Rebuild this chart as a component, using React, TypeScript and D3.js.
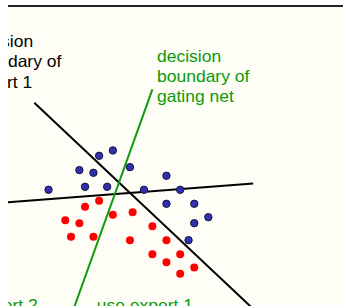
import React from "react";
import * as d3 from "d3";

// data units: x 0..10, y 0..10
const blueX = [3.13, 2.72, 2.13, 2.55, 3.64, 4.73, 1.21, 2.3, 2.96, 4.06, 5.14, 4.73, 5.56, 5.98, 5.56, 5.39];
const blueY = [5.22, 5.04, 4.56, 4.47, 4.66, 4.37, 3.9, 4.0, 4.0, 3.9, 3.9, 3.43, 3.43, 2.98, 2.78, 2.21];
const redX = [2.72, 2.3, 1.71, 2.13, 3.13, 3.72, 4.31, 1.88, 2.55, 3.64, 4.73, 4.31, 5.14, 4.73, 5.56, 5.14];
const redY = [3.53, 3.33, 2.88, 2.78, 3.06, 3.15, 2.68, 2.32, 2.32, 2.21, 2.21, 1.74, 1.74, 1.47, 1.29, 1.08];

const expert1Line = [[0.785, 6.82], [7.67, -0.47]];
const expert2Line = [[0, 3.48], [7.32, 4.11]];
const gatingLine = [[4.31, 7.27], [1.84, -0.47]];

const expert1Label = ["decision", "boundary of", "expert 1"];
const gatingLabel = ["decision", "boundary of", "gating net"];
const bottomLabels = ["use expert 2", "use expert 1"];

export default function App() {
  const W = 343, H = 306;
  const x = d3.scaleLinear().domain([0, 10]).range([8, 343]);
  const y = d3.scaleLinear().domain([0, 10]).range([306, 8]);
  const line = d3.line<number[]>().x(d => x(d[0])).y(d => y(d[1]));
  const font = "'Liberation Sans', Arial, sans-serif";
  const fs = 16.5;
  const lh = 20.5;
  const textLines = (lines: string[], tx: number, ty: number, color: string) => (
    <text
      transform={`translate(${tx},${ty}) scale(1.06,1)`}
      fontFamily={font}
      fontSize={fs}
      fill={color}
    >
      {lines.map((l, i) => (
        <tspan key={i} x={0} y={i * lh}>{l}</tspan>
      ))}
    </text>
  );
  return (
    <svg width={W} height={H} style={{ position: "absolute", left: 0, top: 0 }}>
      <defs>
        <clipPath id="area">
          <rect x={8} y={7} width={W - 8} height={H - 7} />
        </clipPath>
      </defs>
      <rect x={0} y={0} width={W} height={H} fill="#ffffff" />
      <rect x={8} y={7} width={W - 8} height={H - 7} fill="#fefef6" />
      <line x1={8} x2={W} y1={6} y2={6} stroke="#222" strokeWidth={2} />
      <g clipPath="url(#area)">
        <path d={line(expert1Line) || ""} stroke="#000" strokeWidth={2} fill="none" />
        <path d={line(expert2Line) || ""} stroke="#000" strokeWidth={2} fill="none" />
        <path d={line(gatingLine) || ""} stroke="#109a10" strokeWidth={2} fill="none" />
        {redX.map((v, i) => (
          <circle key={"r" + i} cx={x(v)} cy={y(redY[i])} r={4} fill="#ff0000" />
        ))}
        {blueX.map((v, i) => (
          <circle key={"b" + i} cx={x(v)} cy={y(blueY[i])} r={3.7} fill="#3030b0" stroke="#15153a" strokeWidth={1} />
        ))}
        {textLines(expert1Label, -31, 47, "#000")}
        {textLines(gatingLabel, 157, 61.5, "#0a9a0a")}
        {textLines([bottomLabels[0]], -58.5, 311, "#0a9a0a")}
        {textLines([bottomLabels[1]], 96.7, 311, "#0a9a0a")}
      </g>
    </svg>
  );
}
